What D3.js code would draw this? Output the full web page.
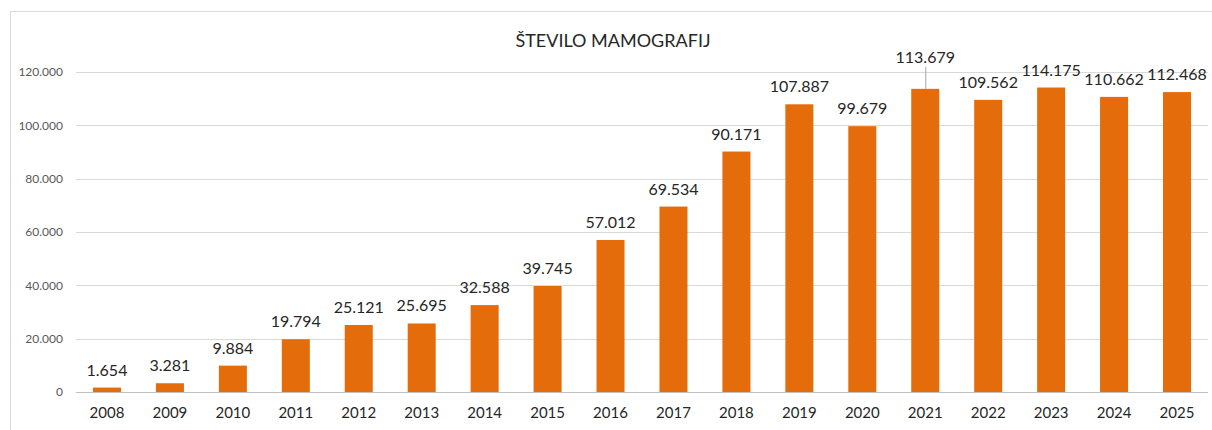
<!DOCTYPE html>
<html><head><meta charset="utf-8">
<script src="https://cdn.jsdelivr.net/npm/d3@7"></script>
<style>body{margin:0;background:#fff}svg{display:block}text{font-family:Lato,"Open Sans",sans-serif}</style>
</head><body><svg id="c" width="1212" height="430"></svg>
<script>
const years = ["2008","2009","2010","2011","2012","2013","2014","2015","2016","2017","2018","2019","2020","2021","2022","2023","2024","2025"];
const values = [1654,3281,9884,19794,25121,25695,32588,39745,57012,69534,90171,107887,99679,113679,109562,114175,110662,112468];
const yTicks = [0,20000,40000,60000,80000,100000,120000];
const title = "ŠTEVILO MAMOGRAFIJ";

const svg = d3.select("#c");
const fmt = v => d3.format(",")(v).replace(/,/g,".");
svg.append("rect").attr("x",10.5).attr("y",11.5).attr("width",1220).attr("height",440).attr("fill","none").attr("stroke","#d9d9d9");

const x = d3.scaleBand().domain(years).range([75.5,1208.5]).paddingInner(0.555).paddingOuter(0.2775);
const y = d3.scaleLinear().domain([0,120000]).range([392,72]);

svg.append("g").selectAll("line").data(yTicks).join("line")
  .attr("x1",76).attr("x2",1208).attr("y1",d=>Math.round(y(d))+0.5).attr("y2",d=>Math.round(y(d))+0.5)
  .attr("stroke",d=>d===0?"#bfbfbf":"#d9d9d9").attr("stroke-width",1);

const yAxis = d3.axisLeft(y).tickValues(yTicks).tickFormat(fmt).tickSize(0).tickPadding(0);
const ga = svg.append("g").attr("transform","translate(63,0)").call(yAxis);
ga.select(".domain").remove();
ga.selectAll("text").attr("font-size",12).attr("fill","#595959").attr("font-family","Lato");

const xAxis = d3.axisBottom(x).tickSize(0).tickPadding(0);
const gx = svg.append("g").attr("transform","translate(0,407)").call(xAxis);
gx.select(".domain").remove();
gx.selectAll("text").attr("font-size",15).attr("fill","#262626").attr("font-family","Lato");

svg.append("g").selectAll("rect").data(values).join("rect")
  .attr("x",(d,i)=>x(years[i])).attr("width",x.bandwidth())
  .attr("y",d=>y(d)).attr("height",d=>y(0)-y(d)).attr("fill","#e46c0a");

const lbl = svg.append("g");
values.forEach((d,i)=>{
  const cx = x(years[i])+x.bandwidth()/2;
  const off = years[i]==="2021" ? 26 : 12;
  lbl.append("text").attr("x",cx).attr("y",y(d)-off).attr("text-anchor","middle")
    .attr("font-size",16).attr("fill","#262626").text(fmt(d));
  if(years[i]==="2021"){
    lbl.append("line").attr("x1",cx+0.5).attr("x2",cx+0.5).attr("y1",y(d)-22).attr("y2",y(d))
      .attr("stroke","#a6a6a6").attr("stroke-width",1);
  }
});

svg.append("text").attr("x",613).attr("y",47).attr("text-anchor","middle")
  .attr("font-size",18).attr("fill","#262626").text(title);
</script></body></html>
